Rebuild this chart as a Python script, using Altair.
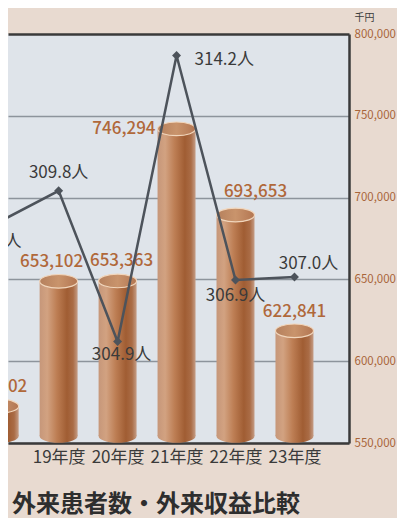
import altair as alt
import pandas as pd

years = [18, 19, 20, 21, 22, 23]
revenue = [576802, 653102, 653363, 746294, 693653, 622841]   # 千円
patients = [308.8, 309.8, 304.9, 314.2, 306.9, 307.0]        # 人
rev_ticks = [550000, 600000, 650000, 700000, 750000, 800000]

df = pd.DataFrame({"year": years, "revenue": revenue, "patients": patients})
df["base"] = 550000

FONT = "Noto Sans CJK JP"
BROWN_TXT = "#b0683a"
DARK = "#3a3a3a"

x_enc = alt.X(
    "year:Q",
    scale=alt.Scale(domain=[18.226, 23.84], nice=False, zero=False),
    axis=alt.Axis(values=years, labelExpr="datum.value + '年度'", labelFlush=False,
                  ticks=False, grid=False, title=None, domainColor=DARK, domainWidth=2.5,
                  labelFontSize=17, labelColor=DARK, labelPadding=6, labelOverlap=False,
                  labelFont=FONT),
)

rev_axis = alt.Axis(orient="right", values=rev_ticks, labelExpr="format(datum.value, ',')",
                    ticks=False, domainColor=DARK, domainWidth=2.5, labelColor="#a8653a",
                    labelFontSize=11.5, labelFont=FONT, labelPadding=5,
                    gridColor={"condition": {"test": "datum.value >= 800000", "value": DARK},
                               "value": "#8d949c"},
                    gridWidth={"condition": {"test": "datum.value >= 800000", "value": 2.5},
                               "value": 1.5},
                    grid=True, title="千円", titleAngle=0, titleAlign="left",
                    titleBaseline="middle", titleX=5, titleY=-17, titleFontSize=10,
                    titleFontWeight="normal", titleColor=DARK, titleFont=FONT)
rev_scale = alt.Scale(domain=[550000, 800000], nice=False, zero=False)

bar_grad = alt.LinearGradient(
    gradient="linear", x1=0, x2=1, y1=0, y2=0,
    stops=[
        alt.GradientStop(color="#c6977a", offset=0),
        alt.GradientStop(color="#d2a281", offset=0.2),
        alt.GradientStop(color="#bd7e54", offset=0.45),
        alt.GradientStop(color="#a05d33", offset=0.72),
        alt.GradientStop(color="#aa6c46", offset=0.88),
        alt.GradientStop(color="#c59d86", offset=1),
    ],
)
cap_grad = alt.LinearGradient(
    gradient="linear", x1=0, x2=1, y1=0, y2=0,
    stops=[
        alt.GradientStop(color="#b5805d", offset=0),
        alt.GradientStop(color="#c9946c", offset=0.5),
        alt.GradientStop(color="#b37652", offset=1),
    ],
)
ELLIPSE = "M-1,0A1,0.36,0,1,1,1,0A1,0.36,0,1,1,-1,0Z"

base = alt.Chart(df)

bars = base.mark_bar(fill=bar_grad, size=38, clip=True, yOffset=7, y2Offset=-7).encode(
    x=x_enc, y=alt.Y("revenue:Q", scale=rev_scale, axis=rev_axis), y2="base:Q"
)
bottoms = base.mark_point(shape=ELLIPSE, size=1444, filled=True, fill=bar_grad,
                          opacity=1, strokeWidth=0, clip=True, yOffset=-7).encode(
    x="year:Q", y=alt.Y("base:Q", scale=rev_scale, axis=rev_axis)
)
caps = base.mark_point(shape=ELLIPSE, size=1444, filled=False, fill=cap_grad,
                       stroke="#f1d6bc", strokeWidth=1.2, opacity=1, clip=True,
                       yOffset=7).encode(x="year:Q",
                                         y=alt.Y("revenue:Q", scale=rev_scale, axis=rev_axis))

rev_txt = dict(font=FONT, fontSize=17, fontWeight=500, color=BROWN_TXT)
def rlabel(cond, **kw):
    return base.transform_filter(cond).mark_text(**rev_txt, **kw).encode(
        x="year:Q", y=alt.Y("revenue:Q", scale=rev_scale, axis=rev_axis),
        text=alt.Text("revenue:Q", format=","))

rev_labels = [
    rlabel("datum.year == 18", dx=-4, dy=-12),
    rlabel("datum.year == 19", dx=-7, dy=-12),
    rlabel("datum.year == 20", dx=4, dy=-13),
    rlabel("datum.year == 21", align="right", dx=-21, dy=7),
    rlabel("datum.year == 22", dx=20, dy=-16),
    rlabel("datum.year == 23", dx=0, dy=-12),
]

rev_layer = alt.layer(bars, bottoms, caps, *rev_labels)

y_pat = alt.Y("patients:Q", scale=alt.Scale(domain=[301.6, 314.9], nice=False, zero=False),
              axis=None)

line = base.mark_line(color="#4d535b", strokeWidth=2.5, clip=True).encode(x="year:Q", y=y_pat)
pts = base.mark_point(shape="diamond", filled=True, size=80, color="#4d535b", opacity=1,
                      clip=True).encode(x="year:Q", y="patients:Q")

pat_base = base.transform_calculate(lbl="format(datum.patients, '.1f') + '人'")
pat_txt = dict(font=FONT, fontSize=17, color=DARK)
def plabel(cond, **kw):
    return pat_base.transform_filter(cond).mark_text(**pat_txt, **kw).encode(
        x="year:Q", y="patients:Q", text="lbl:N")

pat_labels = [
    plabel("datum.year == 18", dx=-8, dy=20),
    plabel("datum.year == 19", dy=-18),
    plabel("datum.year == 20", dx=4, dy=13),
    plabel("datum.year == 21", align="left", dx=18, dy=4),
    plabel("datum.year == 22", dy=16),
    plabel("datum.year == 23", dx=14, dy=-13),
]

pat_layer = alt.layer(line, pts, *pat_labels)

chart = alt.layer(rev_layer, pat_layer).resolve_scale(y="independent").properties(
    width=341, height=409,
    autosize=alt.AutoSizeParams(type="none"),
    padding={"left": 0, "top": 26, "right": 48, "bottom": 75},
    background="#e8dad0",
    title=alt.TitleParams("外来患者数・外来収益比較", orient="bottom", anchor="start",
                          frame="group", fontSize=24, fontWeight="bold", color="#2e2e2e",
                          font=FONT, offset=28, dx=4),
).configure_view(fill="#dfe4ea", strokeWidth=0)

chart.save("out.html", embed_options={"renderer": "svg", "actions": False})
